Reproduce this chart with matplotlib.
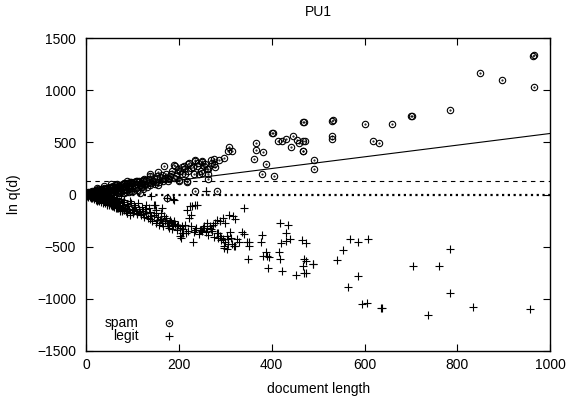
import matplotlib
matplotlib.use('Agg')
import matplotlib.pyplot as plt
import numpy as np

plt.rcParams['font.family'] = ['Liberation Sans', 'DejaVu Sans']

# spam documents: (length, ln q(d))
spam_pts = [
    (964, 1333), (962, 1326), (849, 1167), (897, 1100), (964, 1033), (784, 808),
    (702, 751), (700, 755), (660, 674), (600, 674), (532, 712), (530, 709),
    (530, 559), (530, 534), (619, 508), (632, 489), (492, 329), (492, 249),
    (468, 693), (470, 698), (468, 511), (468, 415),
    (402, 585), (400, 590), (413, 511), (422, 511), (431, 534), (441, 457),
    (447, 559), (454, 521), (459, 496), (467, 415), (472, 511),
    (366, 489), (366, 431), (381, 409), (362, 342), (388, 297), (379, 198), (405, 182),
    (309, 457), (314, 415), (305, 415), (298, 352),
    (276, 336), (276, 288), (278, 265), (256, 297), (260, 240), (264, 192), (251, 319), (251, 208),
    (282, 32), (235, 32), (175, -38),
    (168, 272), (192, 272), (156, 214), (235, 329), (251, 310), (220, 297), (203, 224),
    (217, 118), (200, 137), (177, 160), (138, 182), (124, 137), (108, 131), (88, 128),
    (116, 16), (264, 150),
    (190, 278), (222, 304), (236, 319), (269, 329), (211, 240), (197, 208), (182, 176),
    (168, 144), (154, 176), (139, 192), (125, 144), (111, 128), (96, 118), (82, 112),
    (68, 105), (53, 96), (39, 80), (24, 64), (218, 128), (200, 128), (247, 224), (233, 192),
    (2, 3), (4, 8), (6, 2), (8, 14), (10, 6), (12, 18), (14, 4), (16, 22), (18, 10),
    (20, 28), (22, 14), (24, 34), (26, 6), (28, 24), (30, 40), (32, 16), (34, 46),
    (36, 28), (38, 8), (40, 50), (42, 34), (44, 18), (46, 56), (48, 40), (50, 24),
    (52, 62), (54, 44), (56, 12), (58, 70), (60, 50), (62, 30), (64, 76), (66, 56),
    (68, 20), (70, 84), (72, 60), (74, 38), (76, 90), (78, 66), (80, 44), (82, 96),
    (84, 70), (86, 28), (88, 102), (90, 76), (92, 50), (94, 108), (96, 82), (98, 36),
    (100, 114), (104, 88), (108, 60), (112, 120), (116, 94), (120, 68), (124, 130),
    (128, 100), (132, 76), (136, 150), (140, 110), (146, 160), (150, 120), (156, 90),
    (160, 170), (166, 130), (172, 200), (180, 150), (186, 230), (194, 180), (206, 260),
    (214, 200), (226, 250), (240, 270), (244, 200),
    (1, 0), (3, 12), (5, 20), (7, -5), (9, 25), (11, 0), (13, 30), (15, -8), (17, 36),
    (19, 2), (21, 42), (23, -4), (25, 20), (27, 48), (29, 0), (31, 30), (33, 54),
    (35, 6), (37, 38), (39, 60), (41, 12), (43, 26), (45, 66), (47, 4), (49, 48),
    (51, 72), (53, 10), (55, 58), (57, 28), (59, 80), (61, 6), (63, 40), (65, 88),
    (67, 64), (69, 14), (71, 46), (73, 94), (75, 24), (77, 72), (79, 100), (81, 56),
    (83, 16), (85, 84), (87, 40), (89, 110), (91, 62), (93, 22), (95, 92), (97, 118),
    (99, 58), (101, 30), (103, 124), (106, 76), (109, 100), (111, 40), (114, 134),
    (117, 84), (119, 112), (122, 50), (126, 96), (130, 140), (134, 112), (138, 90),
    (142, 128), (148, 100), (152, 150), (158, 118), (164, 186), (170, 160), (176, 130),
    (184, 196), (190, 162), (198, 242), (208, 200), (212, 276), (220, 230), (230, 262),
    (242, 300), (255, 270), (262, 240), (272, 300), (286, 330),
]

# legitimate documents
legit_pts = [
    (341, -128), (418, -272), (436, -297), (431, -368), (440, -431), (431, -447),
    (420, -463), (465, -438), (475, -463), (380, -384), (377, -457), (416, -550),
    (417, -623), (382, -585), (389, -585), (394, -601), (387, -553), (392, -703),
    (422, -729), (350, -617), (352, -495), (346, -454), (352, -454), (336, -361),
    (341, -377), (310, -361), (312, -416), (307, -479), (297, -511), (303, -521),
    (321, -489), (289, -399), (285, -367), (296, -431), (470, -617), (474, -639),
    (490, -662), (467, -687), (453, -767), (474, -757), (316, -208), (309, -192),
    (321, -233), (300, -272), (289, -256), (296, -224), (282, -240), (278, -272),
    (274, -288), (267, -304), (260, -320), (253, -320), (271, -352), (285, -416),
    (292, -416), (303, -399),
    (569, -425), (585, -454), (608, -422), (553, -530), (540, -630), (585, -783),
    (565, -882), (594, -1048), (606, -1042), (637, -1087), (635, -1090), (705, -687),
    (761, -687), (784, -518), (784, -943), (736, -1154), (833, -1077), (957, -1096),
    (489, -665), (470, -751),
    (231, -457), (203, -399), (210, -367), (298, -495), (320, -495), (235, -336),
    (246, -336), (224, -112), (235, -96), (188, -41), (138, -233), (141, -208),
    (152, -176), (159, -246), (170, -256), (180, -272), (188, -297), (199, -288),
    (206, -304), (163, -128), (149, -96), (73, -160), (88, -176), (102, -144),
    (80, -128), (37, -80), (59, -112),
    (208, -367), (204, -415), (215, -367), (229, -112), (240, -96), (218, -144),
    (226, -192), (222, -224), (190, -48), (175, -32), (141, -16), (247, -336),
    (254, -304), (261, -272), (175, -272), (182, -240), (190, -256), (168, -208),
    (161, -176), (150, -144), (147, -96), (136, -128), (129, -176), (139, -208),
    (154, -240), (164, -272), (197, -304), (179, -320), (89, -176), (103, -144),
    (78, -160), (111, -176), (68, -128), (46, -96), (24, -64), (10, -32), (96, -192),
    (259, 32), (259, 38),
    (2, -2), (4, -6), (6, -1), (8, -10), (10, -4), (12, -14), (14, -20), (16, -8),
    (18, -24), (20, -12), (22, -30), (24, -18), (26, -36), (28, -8), (30, -40),
    (32, -22), (34, -46), (36, -14), (38, -52), (40, -30), (42, -58), (44, -20),
    (46, -64), (48, -38), (50, -70), (52, -26), (54, -76), (56, -46), (58, -84),
    (60, -32), (62, -90), (64, -54), (66, -96), (68, -40), (70, -102), (72, -62),
    (74, -110), (76, -44), (78, -118), (80, -70), (84, -126), (88, -90), (92, -136),
    (96, -60), (100, -150), (104, -100), (108, -160), (112, -80), (116, -170),
    (120, -120), (124, -190), (128, -140),
    (1, -1), (3, -10), (5, -20), (7, -4), (9, -26), (11, -8), (13, -34), (15, -14),
    (17, -40), (19, -2), (21, -48), (23, -24), (25, -56), (27, -10), (29, -62),
    (31, -34), (33, -70), (35, -4), (37, -76), (39, -44), (41, -82), (43, -16),
    (45, -90), (47, -56), (49, -98), (51, -8), (53, -104), (55, -60), (57, -112),
    (59, -22), (61, -118), (63, -70), (65, -126), (67, -30), (69, -132), (71, -84),
    (73, -140), (75, -18), (77, -146), (79, -96), (81, -152), (83, -50), (86, -160),
    (90, -110), (94, -168), (98, -80), (102, -176), (106, -124), (110, -186),
    (114, -140), (118, -200), (122, -160), (126, -216), (130, -100), (134, -224),
    (138, -170), (142, -250), (146, -196), (150, -270), (155, -216), (158, -290),
    (162, -232), (166, -304), (172, -222), (176, -300), (184, -266), (186, -328),
    (192, -284), (196, -340), (202, -318), (210, -330), (214, -296), (220, -350),
    (226, -300), (232, -360), (238, -318), (244, -380), (250, -346), (258, -360),
    (264, -392), (270, -328), (276, -410), (282, -372), (290, -440), (300, -456),
    (306, -430), (314, -470), (326, -430), (330, -460),
]

# reference lines
fit_slope = 0.56
fit_intercept = 25
threshold = 130

spam = np.array(spam_pts, dtype=float)
legit = np.array(legit_pts, dtype=float)

fig = plt.figure(figsize=(5.69, 4.0), dpi=100)
ax = fig.add_axes([0.151, 0.1225, 0.816, 0.7825])

ax.plot(legit[:, 0], legit[:, 1], '+', color='black', markersize=6, markeredgewidth=0.8)
ax.plot(spam[:, 0], spam[:, 1], 'o', color='black', markerfacecolor='none',
        markersize=4.6, markeredgewidth=0.8)
ax.plot(spam[:, 0], spam[:, 1], '.', color='black', markersize=1)

xs = np.array([0, 1000])
ax.plot(xs, fit_slope * xs + fit_intercept, '-', color='black', linewidth=0.8)
ax.axhline(threshold, color='black', linewidth=0.8, linestyle=(0, (4, 4)))
ax.axhline(0, color='black', linewidth=1.6, linestyle=(0, (1, 1.6)))

ax.set_xlim(0, 1000)
ax.set_ylim(-1500, 1500)
ax.set_xticks([0, 200, 400, 600, 800, 1000])
ax.set_yticks([-1500, -1000, -500, 0, 500, 1000, 1500])
ax.tick_params(direction='in', length=5, width=0.8, top=True, right=True, labelsize=10)
ax.tick_params(axis='x', pad=5)
ax.tick_params(axis='y', pad=7)
for s in ax.spines.values():
    s.set_linewidth(1.0)

ax.set_xlabel('document length', fontsize=10, labelpad=7)
ax.set_ylabel('ln q(d)', fontsize=10, labelpad=12)
ax.set_title('PU1', fontsize=10, pad=16)

# gnuplot-style key, bottom left
ax.text(0.114, 0.089, 'spam', transform=ax.transAxes, ha='right', va='center', fontsize=10)
ax.text(0.114, 0.048, 'legit', transform=ax.transAxes, ha='right', va='center', fontsize=10)
ax.plot([0.179], [0.089], 'o', color='black', markerfacecolor='none', markersize=4.6,
        markeredgewidth=0.8, transform=ax.transAxes, clip_on=False)
ax.plot([0.179], [0.089], '.', color='black', markersize=1, transform=ax.transAxes)
ax.plot([0.179], [0.048], '+', color='black', markersize=6, markeredgewidth=0.8,
        transform=ax.transAxes)

fig.savefig('out.png', dpi=100)
